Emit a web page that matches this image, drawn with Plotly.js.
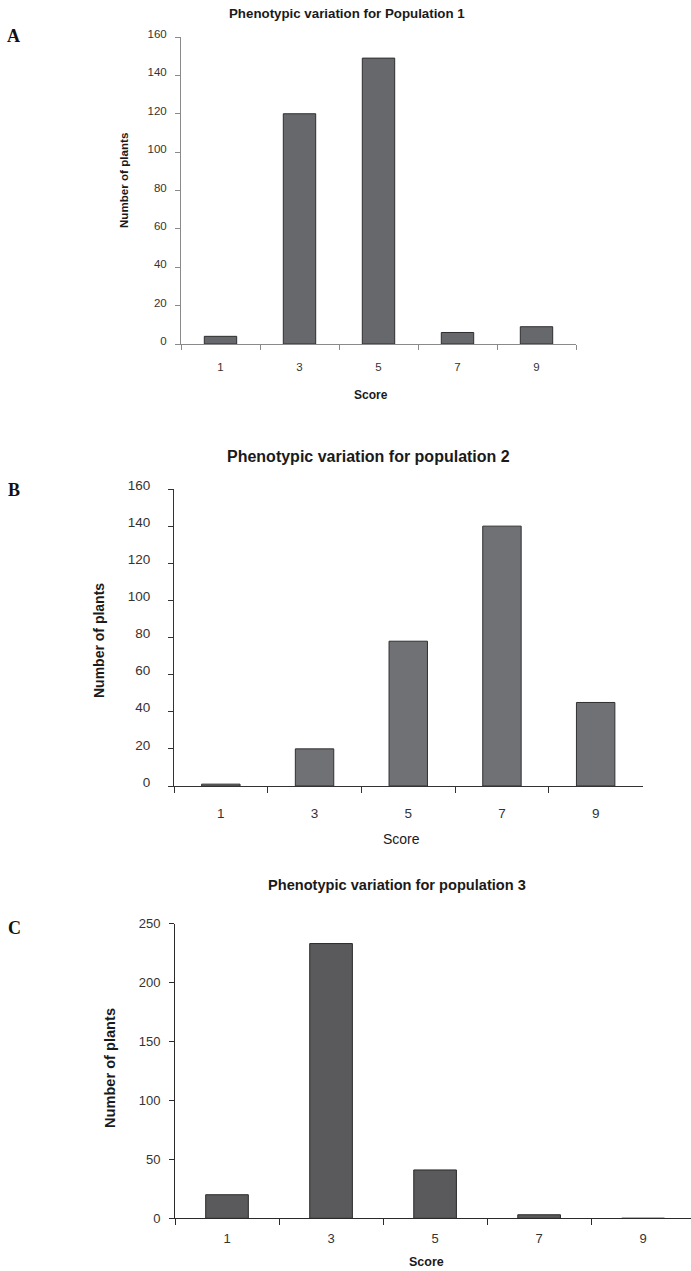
<!DOCTYPE html>
<html>
<head>
<meta charset="utf-8">
<script src="https://cdn.plot.ly/plotly-3.0.1.min.js"></script>
<style>html,body{margin:0;padding:0;background:#fff;}#chart{width:691px;height:1271px;}</style>
</head>
<body>
<div id="chart"></div>
<script>
// ---- data ----
const scores = ["1", "3", "5", "7", "9"];
const population1 = [4, 120, 149, 6, 9];
const population2 = [1, 20, 78, 140, 45];
const population3 = [20, 233, 41, 3, 0];
const panelLetters = ["A", "B", "C"];
const chartTitles = [
  "Phenotypic variation for Population 1",
  "Phenotypic variation for population 2",
  "Phenotypic variation for population 3"
];
const yTitle = "Number of plants";
const xTitle = "Score";

// ---- helpers (pixel -> paper) ----
const W = 691, H = 1271;
const px = v => v / W;
const py = v => 1 - v / H;

const traces = [
  {type: "bar", x: scores, y: population1, xaxis: "x", yaxis: "y",
   marker: {color: "#67686c", line: {color: "#2e2e30", width: 1}}, hoverinfo: "x+y"},
  {type: "bar", x: scores, y: population2, xaxis: "x2", yaxis: "y2",
   marker: {color: "#707175", line: {color: "#303032", width: 1}}, hoverinfo: "x+y"},
  {type: "bar", x: scores, y: population3, xaxis: "x3", yaxis: "y3",
   marker: {color: "#5a5a5c", line: {color: "#2a2a2a", width: 1}}, hoverinfo: "x+y"}
];

const baseFont = "Liberation Sans, Arial, sans-serif";

function xAx(d0, d1, anchor, color, fsize, standoff, ticklen, range) {
  const a = {
    domain: [px(d0), px(d1)], anchor: anchor, type: "category",
    tickson: "boundaries", ticks: "outside", ticklen: ticklen, tickwidth: 1, tickcolor: color,
    showline: true, linecolor: color, linewidth: 1, showgrid: false, zeroline: false,
    tickfont: {family: baseFont, size: fsize, color: "#333"}, fixedrange: true,
    ticklabelstandoff: standoff
  };
  if (range) { a.range = range; a.autorange = false; }
  return a;
}
function yAx(top, bottom, anchor, color, fsize, max, dtick, standoff, shift) {
  return {
    domain: [py(bottom), py(top)], anchor: anchor, range: [0, max], autorange: false,
    tick0: 0, dtick: dtick, ticks: "outside", ticklen: 5, tickwidth: 1, tickcolor: color,
    showline: true, linecolor: color, linewidth: 1, showgrid: false, zeroline: false,
    tickfont: {family: baseFont, size: fsize, color: "#333"}, fixedrange: true,
    ticklabelstandoff: standoff, ticklabelshift: shift
  };
}

function ann(text, x, y, size, opts) {
  return Object.assign({
    text: text, xref: "paper", yref: "paper", x: px(x), y: py(y),
    xanchor: "center", yanchor: "middle", showarrow: false,
    font: {family: baseFont, size: size, color: "#1a1a1a"}
  }, opts || {});
}

const serif = "Liberation Serif, Times New Roman, serif";

const layout = {
  width: W, height: H,
  margin: {l: 0, r: 0, t: 0, b: 0},
  paper_bgcolor: "#ffffff", plot_bgcolor: "#ffffff",
  showlegend: false, bargap: 0.59,
  xaxis: xAx(181, 576, "y", "#8a8a8a", 11.5, 12, 5),
  yaxis: yAx(37, 344, "x", "#8a8a8a", 11.5, 160, 20, 6, -3),
  xaxis2: xAx(174, 642.5, "y2", "#333333", 13.5, 15, 6),
  yaxis2: yAx(489, 786, "x2", "#333333", 13.5, 160, 20, 15, -4),
  xaxis3: xAx(175, 691, "y3", "#2a2a2a", 13, 8, 6, [-0.5, 4.46]),
  yaxis3: yAx(923.5, 1218.3, "x3", "#2a2a2a", 13, 250, 50, 6, 0),
  annotations: [
    ann("<b>" + chartTitles[0] + "</b>", 346.7, 13.4, 13.3),
    ann("<b>" + chartTitles[1] + "</b>", 368.6, 456.8, 16),
    ann("<b>" + chartTitles[2] + "</b>", 397.4, 885, 14.6),
    ann("<b>" + panelLetters[0] + "</b>", 13.6, 36, 18, {font: {family: serif, size: 18, color: "#111"}}),
    ann("<b>" + panelLetters[1] + "</b>", 14, 490, 18, {font: {family: serif, size: 18, color: "#111"}}),
    ann("<b>" + panelLetters[2] + "</b>", 14.5, 928, 18, {font: {family: serif, size: 18, color: "#111"}}),
    ann("<b>" + yTitle + "</b>", 124, 181, 11.6, {textangle: -90}),
    ann("<b>" + yTitle + "</b>", 99, 641, 14, {textangle: -90}),
    ann("<b>" + yTitle + "</b>", 110, 1068, 14.6, {textangle: -90}),
    ann("<b>" + xTitle + "</b>", 370.5, 395, 12),
    ann(xTitle, 401, 839, 14),
    ann("<b>" + xTitle + "</b>", 427, 1261.5, 12.5)
  ]
};

Plotly.newPlot("chart", traces, layout, {staticPlot: true, displayModeBar: false});
</script>
</body>
</html>
